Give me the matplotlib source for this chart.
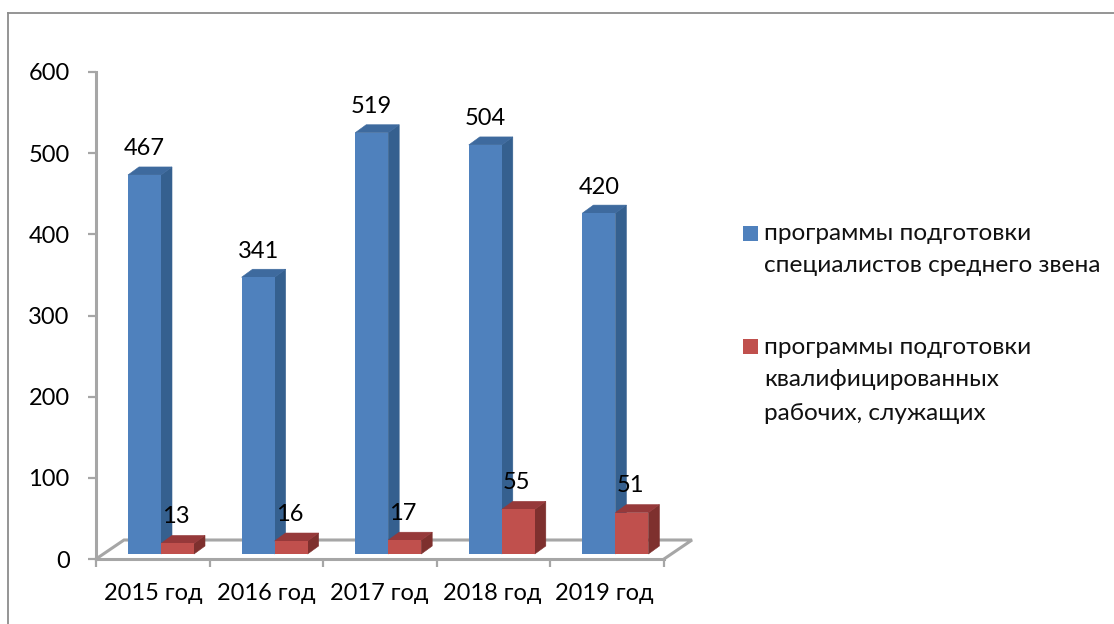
import matplotlib
matplotlib.use("Agg")
import matplotlib.pyplot as plt
from matplotlib.lines import Line2D
from matplotlib.patches import Rectangle

plt.rcParams['font.family'] = ['Lato', 'Noto Sans', 'DejaVu Sans']

categories = ['2015 год', '2016 год', '2017 год', '2018 год', '2019 год']
series_a = [467, 341, 519, 504, 420]
series_b = [13, 16, 17, 55, 51]
name_a = 'программы подготовки\nспециалистов среднего звена'
name_b = 'программы подготовки\nквалифицированных\nрабочих, служащих'
y_ticks = [0, 100, 200, 300, 400, 500, 600]

W, H = 1114, 624
FS = 17.0
fig = plt.figure(figsize=(W / 100, H / 100), dpi=100, facecolor='white')

def px_x(p):
    return p / W

def px_y(p):
    return 1 - p / H

# frame of the picture
for xs, ys in (([8, 8], [13, 624]), ([8, 1114], [13, 13])):
    fig.add_artist(Line2D([px_x(v) for v in xs], [px_y(v) for v in ys],
                          color='#8C8C8C', lw=1.3))

L, R, T, B = 96, 664, 72, 559
ax = fig.add_axes([px_x(L), px_y(B), (R - L) / W, (B - T) / H])
ax.set_xlim(0, 5)
ax.set_ylim(0, 600)
ax.patch.set_alpha(0)
for s in ('top', 'right'):
    ax.spines[s].set_visible(False)
for s in ('left', 'bottom'):
    ax.spines[s].set_color('#A6A6A6')
    ax.spines[s].set_linewidth(2.2)

ux = (R - L) / 5        # pixels per category
uy = (B - T) / 600      # pixels per unit

ax.set_xticks(range(6))
ax.set_xticklabels([])
ax.set_xticks([0.505 + i * 0.993 for i in range(5)], minor=True)
ax.set_xticklabels(categories, minor=True, fontsize=FS, color='black')
ax.tick_params(axis='x', which='major', length=6, width=1.6, color='#A6A6A6')
ax.tick_params(axis='x', which='minor', length=0, pad=17.5)
ax.set_yticks(y_ticks)
ax.set_yticklabels([str(v) for v in y_ticks], fontsize=FS, color='black')
ax.tick_params(axis='y', length=6, width=1.6, color='#A6A6A6', pad=13)

# floor of the 3D box
fdx, fdy = 28 / ux, 19 / uy
ax.plot([0, fdx, 5 + fdx, 5], [0, fdy, fdy, 0], color='#A6A6A6', lw=2.2,
        clip_on=False, zorder=1, solid_joinstyle='miter')

bw = 33 / ux
lift = 5 / uy
ddx, ddy = 11 / ux, 8 / uy

def bar3d(x0, v, front, side, top, z):
    y0 = lift
    y1 = lift + v
    ax.fill([x0 + bw, x0 + bw + ddx, x0 + bw + ddx, x0 + bw],
            [y0, y0 + ddy, y1 + ddy, y1], facecolor=side, edgecolor=side, lw=0.4,
            zorder=z, clip_on=False)
    ax.fill([x0, x0 + ddx, x0 + bw + ddx, x0 + bw],
            [y1, y1 + ddy, y1 + ddy, y1], facecolor=top, edgecolor=top, lw=0.4,
            zorder=z, clip_on=False)
    ax.bar(x0, v, bw, bottom=y0, align='edge', color=front, zorder=z + 0.5, clip_on=False)

start = 32 / ux
for i, (a, b) in enumerate(zip(series_a, series_b)):
    xa = i + start
    xb = xa + bw
    bar3d(xa, a, '#4F81BD', '#35608F', '#3E6A9E', 3)
    bar3d(xb, b, '#C0504D', '#7E302E', '#96393A', 4)
    ax.annotate(str(a), (xa + bw / 2, a + lift), xytext=(0, 26 * 0.72),
                textcoords='offset points', ha='center', va='center',
                fontsize=FS, color='black', zorder=6, annotation_clip=False)
    ax.annotate(str(b), (xb + bw / 2 - 1.5 / ux, b + lift), xytext=(0, 27 * 0.72),
                textcoords='offset points', ha='center', va='center',
                fontsize=FS, color='black', zorder=6, annotation_clip=False)

# legend
for top_px, color, text, text_y in ((226, '#4F81BD', name_a, 233),
                                    (339, '#C0504D', name_b, 347)):
    fig.add_artist(Rectangle((px_x(743), px_y(top_px + 15)), 15 / W, 15 / H,
                             transform=fig.transFigure, color=color, lw=0))
    for k, line in enumerate(text.split('\n')):
        fig.text(px_x(764), px_y(text_y + 33 * k), line, fontsize=17.6,
                 color='#111111', ha='left', va='center')

fig.savefig('out.png', dpi=100)
